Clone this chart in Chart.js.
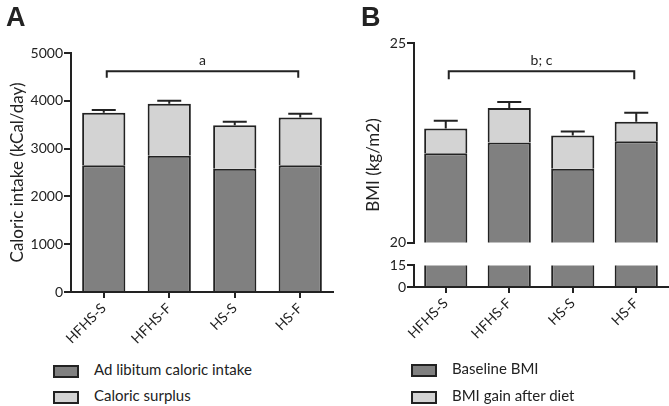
<!DOCTYPE html>
<html>
<head>
<meta charset="utf-8">
<script src="https://cdn.jsdelivr.net/npm/chart.js@4"></script>
<style>
  body { margin: 0; background: #fff; font-family: Lato, sans-serif; color: #222; }
  #wrap { position: relative; width: 669px; height: 406px; overflow: hidden; }
  canvas { position: absolute; }
  .letter { position: absolute; font: bold 27px "Liberation Sans", Arial, sans-serif; color: #222; }
  .ytitle { position: absolute; font-size: 17px; white-space: nowrap; transform: translate(-50%, -50%) rotate(-90deg); }
  .leg { position: absolute; font-size: 15px; line-height: 14px; white-space: nowrap; }
  .leg span.box { display: inline-block; width: 22px; height: 9px; border: 2px solid #222; vertical-align: middle; margin-right: 15px; }
</style>
</head>
<body>
<div id="wrap">
  <canvas id="chartA" width="340" height="360" style="left:0;top:0"></canvas>
  <canvas id="chartBtop" width="329" height="252" style="left:340px;top:0"></canvas>
  <canvas id="chartBbot" width="329" height="104" style="left:340px;top:256px"></canvas>
  <div class="letter" style="left:6px;top:2px">A</div>
  <div class="letter" style="left:361px;top:2px">B</div>
  <div class="ytitle" style="left:372px;top:165px">BMI (kg/m2)</div>
  <div class="leg" style="left:53px;top:362px"><span class="box" style="background:#808080"></span>Ad libitum caloric intake</div>
  <div class="leg" style="left:53px;top:388px"><span class="box" style="background:#d3d3d3"></span>Caloric surplus</div>
  <div class="leg" style="left:411px;top:361px"><span class="box" style="background:#808080"></span>Baseline BMI</div>
  <div class="leg" style="left:411px;top:388px"><span class="box" style="background:#d3d3d3"></span>BMI gain after diet</div>
</div>
<script>
// Datos
const groups = ['HFHS-S', 'HFHS-F', 'HS-S', 'HS-F'];

const adLibitum = [2650, 2850, 2580, 2650];
const surplus = [1100, 1090, 910, 1000];
const surplusErr = [60, 60, 70, 80];

const baselineBMI = [22.24, 22.51, 21.85, 22.54];
const gainBMI = [0.62, 0.86, 0.83, 0.49];
const gainErr = [0.19, 0.15, 0.10, 0.22];

const bracketA = { from: 0, to: 3, y: 4620, leg: 4480, label: 'a' };
const bracketB = { from: 0, to: 3, y: 24.29, leg: 24.09, label: 'b; c' };

const ink = '#222';
const darkGrey = '#808080';
const lightGrey = '#d3d3d3';
const tickFont = { family: 'Lato', size: 14 };

// barras de error y corchete de significancia
const extras = {
    id: 'extras',
    afterDatasetsDraw(chart, args, opts) {
        const ctx = chart.ctx;
        const x = chart.scales.x, y = chart.scales.y;
        ctx.save();
        ctx.strokeStyle = ink;
        ctx.lineWidth = 2;
        if (opts.errors) {
            opts.base.forEach((b, i) => {
                const top = b + opts.top[i];
                const px = x.getPixelForValue(i);
                const y0 = y.getPixelForValue(top);
                const y1 = y.getPixelForValue(top + opts.errors[i]);
                ctx.beginPath();
                ctx.moveTo(px, y0);
                ctx.lineTo(px, y1);
                ctx.moveTo(px - 12, y1);
                ctx.lineTo(px + 12, y1);
                ctx.stroke();
            });
        }
        if (opts.bracket) {
            const br = opts.bracket;
            const x0 = x.getPixelForValue(br.from) + 3;
            const x1 = x.getPixelForValue(br.to) - 2;
            const yb = y.getPixelForValue(br.y);
            const yl = y.getPixelForValue(br.leg);
            ctx.beginPath();
            ctx.moveTo(x0, yl);
            ctx.lineTo(x0, yb);
            ctx.lineTo(x1, yb);
            ctx.lineTo(x1, yl);
            ctx.stroke();
            ctx.fillStyle = ink;
            ctx.font = '14px Lato';
            ctx.textAlign = 'center';
            ctx.textBaseline = 'bottom';
            ctx.fillText(br.label, (x0 + x1) / 2, yb - 4);
        }
        ctx.restore();
    }
};

function makeDatasets(base, top, catPct, cut) {
    const common = {
        borderColor: ink,
        borderWidth: cut ? { top: 0, bottom: 0, left: 2, right: 2 } : 2,
        categoryPercentage: catPct,
        barPercentage: 1,
        clip: 0
    };
    const sets = [Object.assign({ label: 'base', data: base, backgroundColor: darkGrey }, common)];
    if (top) {
        sets.push(Object.assign({ label: 'top', data: top, backgroundColor: lightGrey }, common));
    }
    return sets;
}

function xAxis(show, height) {
    return {
        display: show,
        stacked: true,
        grid: { drawOnChartArea: false, drawTicks: true, tickLength: 6, offset: false, color: ink, lineWidth: 2 },
        border: { display: true, color: ink, width: 2 },
        ticks: { color: ink, font: tickFont, minRotation: 45, maxRotation: 45, padding: 2 },
        afterFit: s => { s.height = height; }
    };
}

function yAxis(min, max, step, width, title) {
    return {
        stacked: true,
        min: min,
        max: max,
        grid: { drawOnChartArea: false, drawTicks: true, tickLength: 7, color: ink, lineWidth: 2 },
        border: { display: true, color: ink, width: 2 },
        ticks: { color: ink, font: tickFont, stepSize: step, padding: 1, callback: v => String(v) },
        title: title ? { display: true, text: title, color: ink, font: { family: 'Lato', size: 17 }, padding: { top: 7, bottom: 0 } } : { display: false },
        afterFit: s => { s.width = width; }
    };
}

const baseOptions = {
    responsive: false,
    animation: false,
    plugins: { legend: { display: false }, tooltip: { enabled: false } }
};

// Panel A
new Chart(document.getElementById('chartA'), {
    type: 'bar',
    data: { labels: groups, datasets: makeDatasets(adLibitum, surplus, 0.66, false) },
    options: Object.assign({}, baseOptions, {
        layout: { padding: { left: 0, right: 7, top: 53, bottom: 0 } },
        scales: {
            x: xAxis(true, 68),
            y: yAxis(0, 5000, 1000, 71, 'Caloric intake (kCal/day)')
        },
        plugins: Object.assign({}, baseOptions.plugins, {
            extras: { base: adLibitum, top: surplus, errors: surplusErr, bracket: bracketA }
        })
    }),
    plugins: [extras]
});

// Panel B, tramo superior (20-25)
new Chart(document.getElementById('chartBtop'), {
    type: 'bar',
    data: { labels: groups, datasets: makeDatasets(baselineBMI, gainBMI, 0.68, false) },
    options: Object.assign({}, baseOptions, {
        layout: { padding: { left: 0, right: 1, top: 43, bottom: 6 } },
        scales: {
            x: xAxis(false, 0),
            y: yAxis(20, 25, 5, 74, null)
        },
        plugins: Object.assign({}, baseOptions.plugins, {
            extras: { base: baselineBMI, top: gainBMI, errors: gainErr, bracket: bracketB }
        })
    }),
    plugins: [extras]
});

// Panel B, tramo inferior (0-15): solo la base llega hasta aqu칤
new Chart(document.getElementById('chartBbot'), {
    type: 'bar',
    data: { labels: groups, datasets: makeDatasets(baselineBMI, null, 0.68, true) },
    options: Object.assign({}, baseOptions, {
        layout: { padding: { left: 0, right: 1, top: 8, bottom: 0 } },
        scales: {
            x: xAxis(true, 73),
            y: yAxis(0, 15, 15, 74, null)
        },
        plugins: Object.assign({}, baseOptions.plugins, { extras: {} })
    })
});
</script>
</body>
</html>
